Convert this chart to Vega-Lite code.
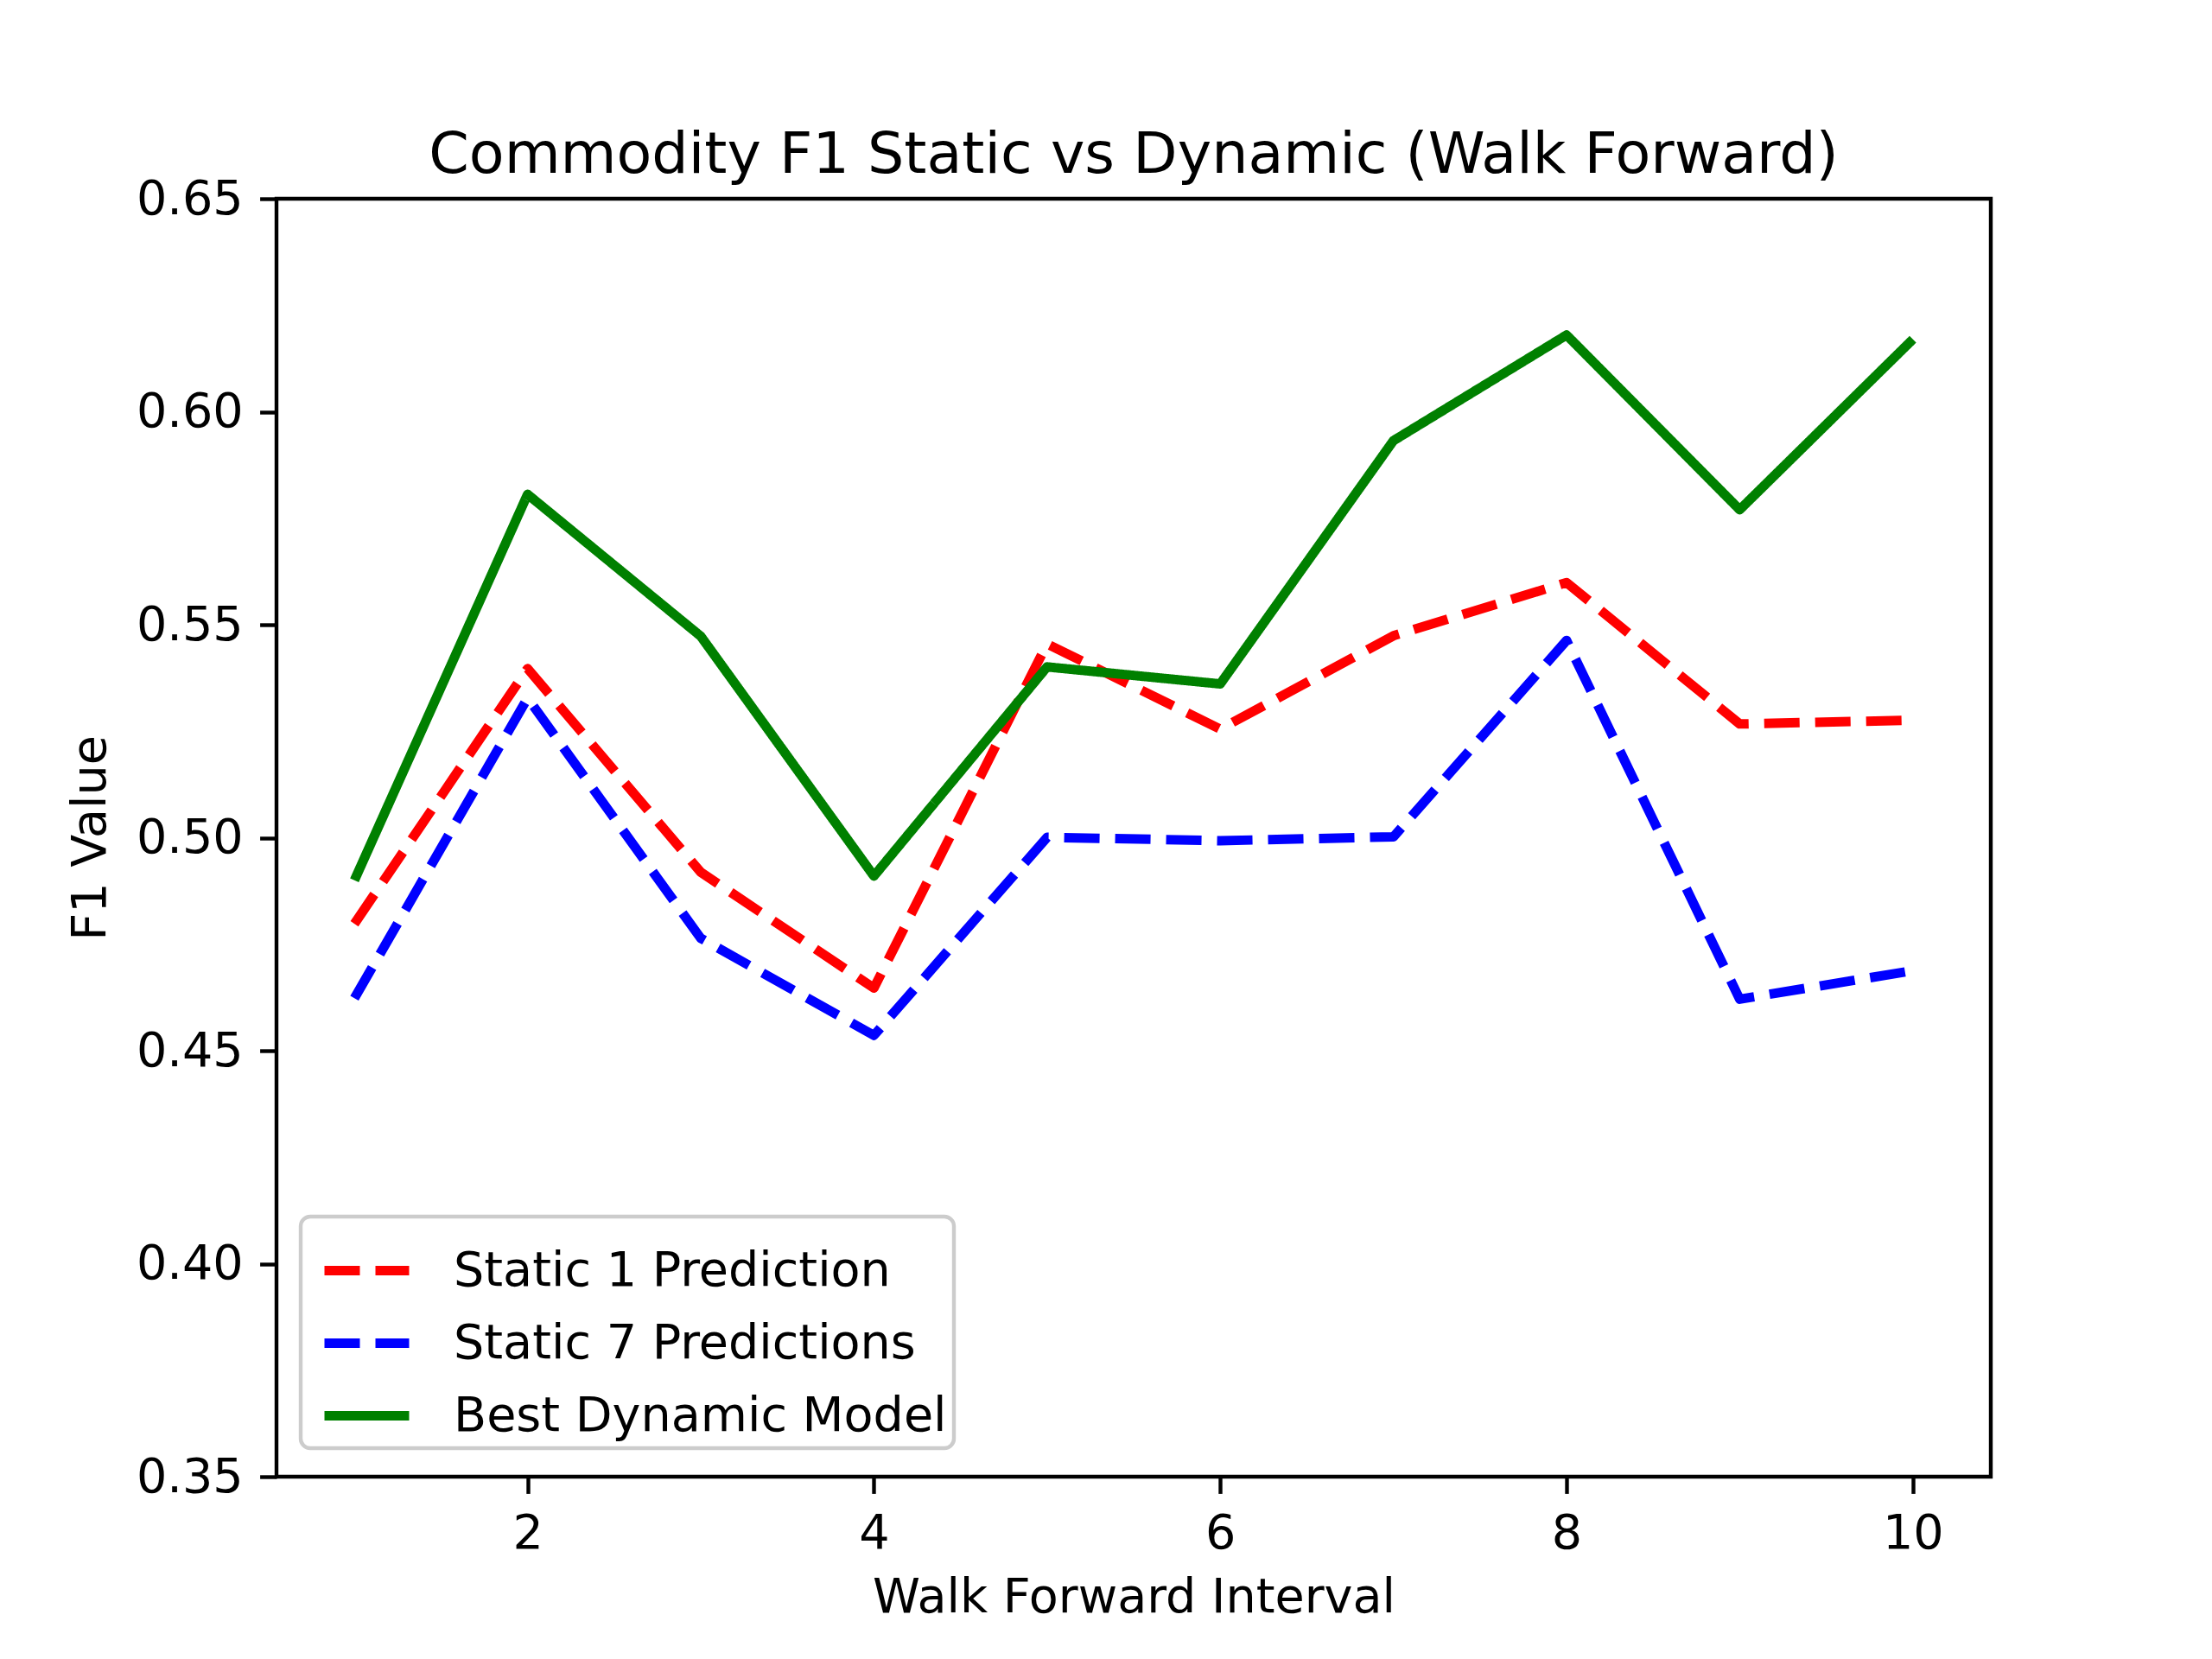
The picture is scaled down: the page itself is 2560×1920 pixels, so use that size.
{
  "$schema": "https://vega.github.io/schema/vega-lite/v6.json",
  "autosize": "none",
  "width": 1984,
  "height": 1479,
  "padding": {"left": 320, "top": 230, "right": 256, "bottom": 211},
  "background": "white",
  "title": {
    "text": "Commodity F1 Static vs Dynamic (Walk Forward)",
    "fontSize": 66.7,
    "font": "DejaVu Sans",
    "fontWeight": "normal",
    "color": "black",
    "anchor": "middle",
    "baseline": "alphabetic",
    "offset": 33,
    "dy": 97
  },
  "data": {
    "values": [
      {"interval": 1, "series": "Static 1 Prediction", "f1": 0.4798},
      {"interval": 2, "series": "Static 1 Prediction", "f1": 0.5397},
      {"interval": 3, "series": "Static 1 Prediction", "f1": 0.4919},
      {"interval": 4, "series": "Static 1 Prediction", "f1": 0.4647},
      {"interval": 5, "series": "Static 1 Prediction", "f1": 0.5455},
      {"interval": 6, "series": "Static 1 Prediction", "f1": 0.5255},
      {"interval": 7, "series": "Static 1 Prediction", "f1": 0.5474},
      {"interval": 8, "series": "Static 1 Prediction", "f1": 0.5599},
      {"interval": 9, "series": "Static 1 Prediction", "f1": 0.5267},
      {"interval": 10, "series": "Static 1 Prediction", "f1": 0.5276},
      {"interval": 1, "series": "Static 7 Predictions", "f1": 0.4623},
      {"interval": 2, "series": "Static 7 Predictions", "f1": 0.5328},
      {"interval": 3, "series": "Static 7 Predictions", "f1": 0.4764},
      {"interval": 4, "series": "Static 7 Predictions", "f1": 0.4536},
      {"interval": 5, "series": "Static 7 Predictions", "f1": 0.5001},
      {"interval": 6, "series": "Static 7 Predictions", "f1": 0.4993},
      {"interval": 7, "series": "Static 7 Predictions", "f1": 0.5002},
      {"interval": 8, "series": "Static 7 Predictions", "f1": 0.5463},
      {"interval": 9, "series": "Static 7 Predictions", "f1": 0.4621},
      {"interval": 10, "series": "Static 7 Predictions", "f1": 0.4688},
      {"interval": 1, "series": "Best Dynamic Model", "f1": 0.4900},
      {"interval": 2, "series": "Best Dynamic Model", "f1": 0.5806},
      {"interval": 3, "series": "Best Dynamic Model", "f1": 0.5473},
      {"interval": 4, "series": "Best Dynamic Model", "f1": 0.4910},
      {"interval": 5, "series": "Best Dynamic Model", "f1": 0.5401},
      {"interval": 6, "series": "Best Dynamic Model", "f1": 0.5361},
      {"interval": 7, "series": "Best Dynamic Model", "f1": 0.5932},
      {"interval": 8, "series": "Best Dynamic Model", "f1": 0.6180},
      {"interval": 9, "series": "Best Dynamic Model", "f1": 0.5770},
      {"interval": 10, "series": "Best Dynamic Model", "f1": 0.6170}
    ]
  },
  "mark": {"type": "line", "strokeWidth": 11, "strokeCap": "butt", "strokeJoin": "round", "clip": true},
  "encoding": {
    "x": {
      "field": "interval",
      "type": "quantitative",
      "title": "Walk Forward Interval",
      "scale": {"domain": [0.55, 10.45], "nice": false, "zero": false},
      "axis": {"values": [2, 4, 6, 8, 10], "titlePadding": 18}
    },
    "y": {
      "field": "f1",
      "type": "quantitative",
      "title": "F1 Value",
      "scale": {"domain": [0.35, 0.65], "nice": false, "zero": false},
      "axis": {"values": [0.35, 0.4, 0.45, 0.5, 0.55, 0.6, 0.65], "format": ".2f", "titlePadding": 24}
    },
    "color": {
      "field": "series",
      "type": "nominal",
      "title": null,
      "sort": ["Static 1 Prediction", "Static 7 Predictions", "Best Dynamic Model"],
      "scale": {
        "domain": ["Static 1 Prediction", "Static 7 Predictions", "Best Dynamic Model"],
        "range": ["#ff0000", "#0000ff", "#008000"]
      }
    },
    "strokeDash": {
      "field": "series",
      "type": "nominal",
      "title": null,
      "sort": ["Static 1 Prediction", "Static 7 Predictions", "Best Dynamic Model"],
      "scale": {
        "domain": ["Static 1 Prediction", "Static 7 Predictions", "Best Dynamic Model"],
        "range": [[41, 18], [41, 18], [1, 0]]
      }
    }
  },
  "config": {
    "font": "DejaVu Sans",
    "view": {"stroke": "black", "strokeWidth": 4.4},
    "axis": {
      "grid": false,
      "domain": false,
      "ticks": true,
      "tickSize": 19.4,
      "tickWidth": 4.4,
      "tickColor": "black",
      "labelPadding": 19.4,
      "labelFontSize": 55.6,
      "labelColor": "black",
      "labelFont": "DejaVu Sans",
      "titleFontSize": 55.6,
      "titleFontWeight": "normal",
      "titleColor": "black",
      "titleFont": "DejaVu Sans",
      "labelFlush": false,
      "labelOverlap": false
    },
    "legend": {
      "orient": "none",
      "legendX": 28,
      "legendY": 1178,
      "padding": 8,
      "fillColor": "rgba(255,255,255,0.8)",
      "strokeColor": "#cccccc",
      "strokeWidth": 4.4,
      "cornerRadius": 11,
      "symbolType": "stroke",
      "symbolSize": 9600,
      "symbolStrokeWidth": 11,
      "symbolOffset": 14,
      "labelFontSize": 55.6,
      "labelFont": "DejaVu Sans",
      "labelColor": "black",
      "labelOffset": 46,
      "labelLimit": 1000,
      "rowPadding": -2
    }
  }
}
